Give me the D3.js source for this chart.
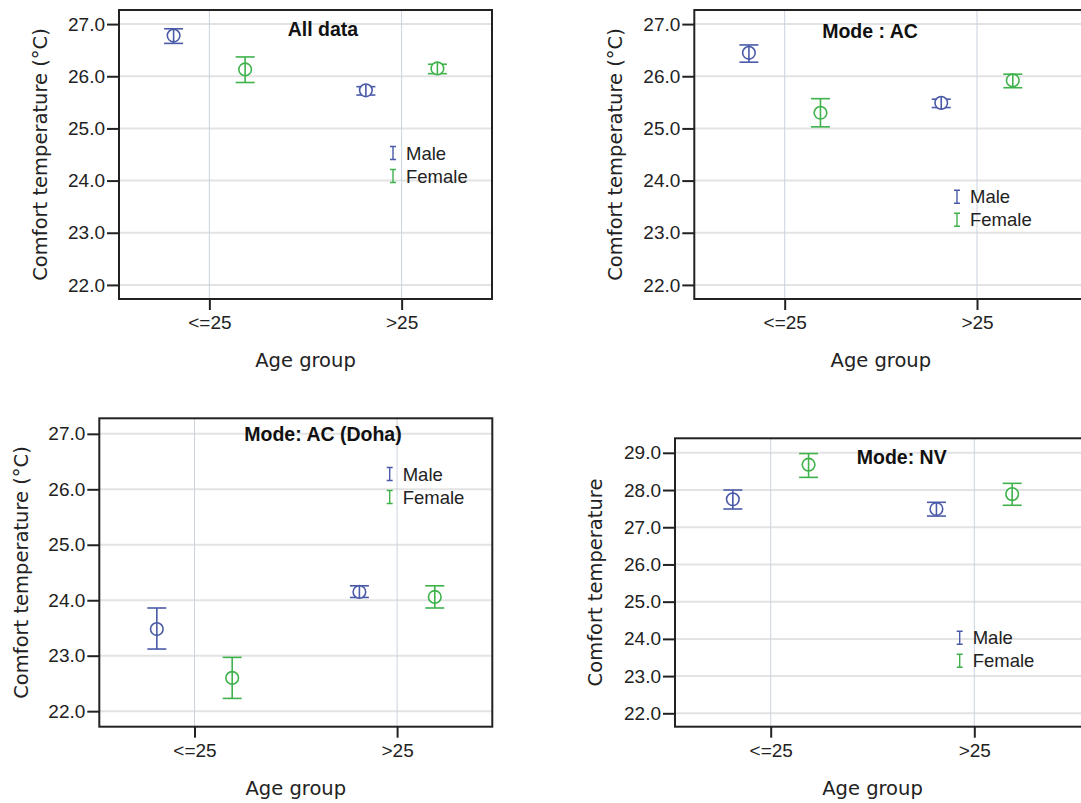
<!DOCTYPE html>
<html>
<head>
<meta charset="utf-8">
<script src="https://cdn.jsdelivr.net/npm/d3@7"></script>
<style>
  html, body { margin: 0; padding: 0; background: #ffffff; }
  svg { display: block; }
</style>
</head>
<body>
<svg id="chart" width="1081" height="803"></svg>
<script>
// ---------------- DATA ----------------
const ageGroups = ["<=25", ">25"];
const sexes = ["Male", "Female"];
const panelTitles = ["All data", "Mode : AC", "Mode: AC (Doha)", "Mode: NV"];
const yAxisTitles = ["Comfort temperature (°C)", "Comfort temperature (°C)", "Comfort temperature (°C)", "Comfort temperature"];
const xAxisTitle = "Age group";
const yTicksAC = [22, 23, 24, 25, 26, 27];
const yTicksNV = [22, 23, 24, 25, 26, 27, 28, 29];

// order of points: [<=25 Male, <=25 Female, >25 Male, >25 Female]
const allDataMean = [26.78, 26.13, 25.73, 26.15];
const allDataLow  = [26.63, 25.88, 25.64, 26.05];
const allDataHigh = [26.91, 26.37, 25.80, 26.23];

const acMean = [26.45, 25.30, 25.49, 25.92];
const acLow  = [26.27, 25.03, 25.40, 25.78];
const acHigh = [26.60, 25.57, 25.56, 26.04];

const dohaMean = [23.48, 22.60, 24.15, 24.06];
const dohaLow  = [23.12, 22.23, 24.05, 23.86];
const dohaHigh = [23.86, 22.97, 24.26, 24.26];

const nvMean = [27.75, 28.68, 27.49, 27.89];
const nvLow  = [27.49, 28.34, 27.30, 27.59];
const nvHigh = [28.00, 28.98, 27.67, 28.18];

// ---------------- LAYOUT / STYLE ----------------
const colors = { Male: "#4a5aa8", Female: "#3fb24c" };
const layout = [
  { L: 119,   T: 10,    R: 492,    B: 299,   frameR: 492,   yDomain: [21.73, 27.27], ticks: yTicksAC,
    titleX: 323, titleY: 29, legX: 406, legY: 153, yTitleX: 40, xTitleY: 360,
    mean: allDataMean, low: allDataLow, high: allDataHigh },
  { L: 694.3, T: 10,    R: 1067.4, B: 299,   frameR: 1100,  yDomain: [21.73, 27.27], ticks: yTicksAC,
    titleX: 870, titleY: 30.5, legX: 970, legY: 196.7, yTitleX: 615, xTitleY: 360,
    mean: acMean, low: acLow, high: acHigh },
  { L: 99.3,  T: 418.3, R: 492.3,  B: 726.7, frameR: 492.3, yDomain: [21.72, 27.28], ticks: yTicksAC,
    titleX: 323, titleY: 434.3, legX: 402.7, legY: 474, yTitleX: 21.7, xTitleY: 788,
    mean: dohaMean, low: dohaLow, high: dohaHigh },
  { L: 675,   T: 438.3, R: 1070,   B: 726.7, frameR: 1100,  yDomain: [21.64, 29.39], ticks: yTicksNV,
    titleX: 901.7, titleY: 456.7, legX: 972.7, legY: 637.7, yTitleX: 595, xTitleY: 788,
    mean: nvMean, low: nvLow, high: nvHigh }
];

const svg = d3.select("#chart");

layout.forEach((p, i) => {
  const g = svg.append("g");
  const x = d3.scalePoint().domain(ageGroups).range([p.L, p.R]).padding(0.47);
  const step = x.step();
  const xs = d3.scalePoint().domain(sexes).range([-0.186 * step, 0.186 * step]);
  const y = d3.scaleLinear().domain(p.yDomain).range([p.B, p.T]);

  // plot background
  g.append("rect").attr("x", p.L).attr("y", p.T)
    .attr("width", p.frameR - p.L).attr("height", p.B - p.T)
    .attr("fill", "#ffffff");

  // horizontal gridlines
  g.append("g").selectAll("line").data(p.ticks).join("line")
    .attr("x1", p.L).attr("x2", p.frameR)
    .attr("y1", d => y(d)).attr("y2", d => y(d))
    .attr("stroke", "#e3e3e3").attr("stroke-width", 2);

  // vertical gridlines
  g.append("g").selectAll("line").data(ageGroups).join("line")
    .attr("x1", d => x(d)).attr("x2", d => x(d))
    .attr("y1", p.T).attr("y2", p.B)
    .attr("stroke", "#cbd3de").attr("stroke-width", 1);

  // y axis
  const yAxis = d3.axisLeft(y).tickValues(p.ticks).tickFormat(d3.format(".1f"))
    .tickSize(12).tickPadding(2);
  const ya = g.append("g").attr("transform", `translate(${p.L},0)`).call(yAxis);
  ya.select(".domain").remove();
  ya.selectAll(".tick line").attr("stroke", "#222").attr("stroke-width", 2);
  ya.selectAll(".tick text").attr("font-family", "'Liberation Sans', Arial, sans-serif")
    .attr("font-size", 19).attr("fill", "#222");

  // x axis
  const xAxis = d3.axisBottom(x).tickSize(11).tickPadding(6);
  const xa = g.append("g").attr("transform", `translate(0,${p.B})`).call(xAxis);
  xa.select(".domain").remove();
  xa.selectAll(".tick line").attr("stroke", "#222").attr("stroke-width", 2);
  xa.selectAll(".tick text").attr("font-family", "'Liberation Sans', Arial, sans-serif")
    .attr("font-size", 19).attr("fill", "#222");

  // frame
  g.append("rect").attr("x", p.L).attr("y", p.T)
    .attr("width", p.frameR - p.L).attr("height", p.B - p.T)
    .attr("fill", "none").attr("stroke", "#222").attr("stroke-width", 2);

  // error bars
  const pts = [];
  ageGroups.forEach((a, ai) => sexes.forEach((s, si) => {
    const k = ai * 2 + si;
    pts.push({ age: a, sex: s, m: p.mean[k], lo: p.low[k], hi: p.high[k] });
  }));
  const eg = g.append("g").selectAll("g").data(pts).join("g")
    .attr("transform", d => `translate(${x(d.age) + xs(d.sex)},0)`)
    .attr("stroke", d => colors[d.sex]).attr("fill", "none").attr("stroke-width", 1.6);
  eg.append("line").attr("x1", 0).attr("x2", 0)
    .attr("y1", d => y(d.hi)).attr("y2", d => y(d.lo));
  eg.append("line").attr("x1", -9.5).attr("x2", 9.5)
    .attr("y1", d => y(d.hi)).attr("y2", d => y(d.hi));
  eg.append("line").attr("x1", -9.5).attr("x2", 9.5)
    .attr("y1", d => y(d.lo)).attr("y2", d => y(d.lo));
  eg.append("circle").attr("cx", 0).attr("cy", d => y(d.m)).attr("r", 6.3)
    .attr("fill", "#ffffff");
  // redraw vertical line through the circle (circle is open showing the bar)
  eg.append("line").attr("x1", 0).attr("x2", 0)
    .attr("y1", d => y(d.m) - 6.3).attr("y2", d => y(d.m) + 6.3);

  // title
  g.append("text").attr("x", p.titleX).attr("y", p.titleY)
    .attr("text-anchor", "middle").attr("dominant-baseline", "central")
    .attr("font-family", "'Liberation Sans', Arial, sans-serif").attr("font-weight", "bold")
    .attr("font-size", 19.5).attr("fill", "#111").text(panelTitles[i]);

  // legend
  const lg = g.append("g").selectAll("g").data(sexes).join("g")
    .attr("transform", (d, j) => `translate(${p.legX},${p.legY + j * 23})`);
  lg.append("path").attr("d", "M-16,-6.5H-10M-13,-6.5V6.5M-16,6.5H-10")
    .attr("stroke", d => colors[d]).attr("stroke-width", 1.4).attr("fill", "none");
  lg.append("text").attr("x", 0).attr("y", 0).attr("dominant-baseline", "central")
    .attr("font-family", "'Liberation Sans', Arial, sans-serif").attr("font-size", 18.5)
    .attr("fill", "#222").text(d => d);

  // axis titles
  g.append("text").attr("transform", `translate(${p.yTitleX},${(p.T + p.B) / 2}) rotate(-90)`)
    .attr("text-anchor", "middle").attr("dominant-baseline", "central")
    .attr("font-family", "'DejaVu Sans', sans-serif").attr("font-size", 19.5)
    .attr("fill", "#222").text(yAxisTitles[i]);
  g.append("text").attr("x", (p.L + p.R) / 2).attr("y", p.xTitleY)
    .attr("text-anchor", "middle").attr("dominant-baseline", "central")
    .attr("font-family", "'DejaVu Sans', sans-serif").attr("font-size", 19.5)
    .attr("fill", "#222").text(xAxisTitle);
});
</script>
</body>
</html>
